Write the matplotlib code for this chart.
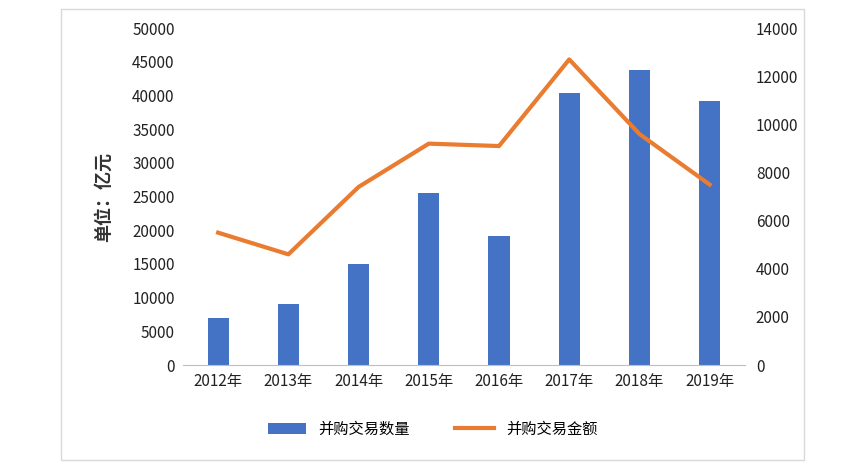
import matplotlib
matplotlib.use("Agg")
import matplotlib.pyplot as plt
from matplotlib.patches import Rectangle

plt.rcParams['font.family'] = ['Noto Sans CJK SC', 'DejaVu Sans']

years = ['2012年', '2013年', '2014年', '2015年', '2016年', '2017年', '2018年', '2019年']
deal_count = [7000, 9000, 15000, 25500, 19200, 40300, 43800, 39200]
deal_amount = [5500, 4600, 7400, 9200, 9100, 12700, 9600, 7500]

fig = plt.figure(figsize=(8.65, 4.69), dpi=100)
fig.patches.append(Rectangle((0.07, 0.02), 0.86, 0.96, transform=fig.transFigure,
                             fill=False, edgecolor='#d9d9d9', lw=1))
ax = fig.add_axes([0.2116, 0.2217, 0.6494, 0.7183])
x = range(len(years))
ax.bar(x, deal_count, width=0.3, color='#4472C4', label='并购交易数量')
ax.set_ylim(0, 50000)
ax.set_yticks(range(0, 50001, 5000))
ax.set_xlim(-0.5, len(years) - 0.5)
ax.set_xticks(list(x))
ax.set_xticklabels(years)
ax.set_ylabel('单位：亿元', fontsize=13, fontweight='bold', color='#333333', labelpad=14)
for s in ['top', 'right', 'left']:
    ax.spines[s].set_visible(False)
ax.spines['bottom'].set_color('#bfbfbf')
ax.tick_params(length=0, labelsize=11, colors='#222222', pad=6)
for t in ax.get_xticklabels() + ax.get_yticklabels():
    t.set_fontweight('medium')

ax2 = ax.twinx()
ax2.plot(list(x), deal_amount, color='#E97C30', lw=3, label='并购交易金额')
ax2.set_ylim(0, 14000)
ax2.set_yticks(range(0, 14001, 2000))
for s in ['top', 'right', 'left', 'bottom']:
    ax2.spines[s].set_visible(False)
ax2.tick_params(length=0, labelsize=11, colors='#222222', pad=8)
for t in ax2.get_yticklabels():
    t.set_fontweight('medium')

h1, l1 = ax.get_legend_handles_labels()
h2, l2 = ax2.get_legend_handles_labels()
fig.legend(h1 + h2, l1 + l2, loc='center', bbox_to_anchor=(0.5, 0.085), ncol=2,
           frameon=False, fontsize=11, columnspacing=3, handlelength=2.5)
fig.savefig('out.png', dpi=100)
